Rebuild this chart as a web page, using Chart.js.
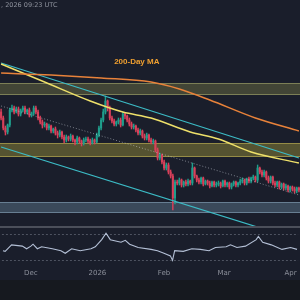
<!DOCTYPE html>
<html>
<head>
<meta charset="utf-8">
<script src="https://cdn.jsdelivr.net/npm/chart.js@4.4.1/dist/chart.umd.min.js"></script>
<style>
    html, body { margin: 0; padding: 0; background: #16191f; }
    #wrap { position: relative; width: 300px; height: 300px; overflow: hidden; background: #16191f; }
    #mainBox { position: absolute; left: 0; top: 0; width: 300px; height: 226px; background: #1a1e2b; }
    #sep { position: absolute; left: 0; top: 226px; width: 300px; height: 2px; background: #4b4f5a; }
    #rsiBox { position: absolute; left: 0; top: 228px; width: 300px; height: 52px; background: #1a1e2b; }
    #stamp { position: absolute; left: 1px; top: 1px; font: 6.5px "DejaVu Sans", sans-serif; color: #8f939e; }
</style>
</head>
<body>
<div id="wrap">
    <div id="mainBox"><canvas id="main" width="300" height="226"></canvas></div>
    <div id="sep"></div>
    <div id="rsiBox"><canvas id="rsi" width="300" height="52"></canvas></div>
    <div id="stamp">, 2026 09:23 UTC</div>
</div>
<script>
// daily candles, Nov 18 -> Apr 4
const firstOpen = 128;
const closes = [122,112,108,115,130,132,128,131,126,130,
    132,128,130,125,127,132,128,122,118,115,
    116,112,114,109,111,107,105,108,103,100,
    103,101,104,100,98,102,99,97,100,101,
    99,97,100,98,105,112,120,128,139,132,
    122,119,116,118,120,115,126,124,120,116,
    113,114,110,107,109,104,102,105,100,98,
    99,90,82,85,78,72,75,68,64,42,
    58,57,60,55,58,56,59,57,72,64,
    60,58,62,56,59,57,54,58,55,56,
    57,54,59,55,57,53,56,58,55,57,
    59,60,57,61,59,62,63,60,72,68,
    65,68,62,59,63,57,55,58,53,56,
    52,54,50,53,51,49,52,50];
const highs = [131,124,114,116,132,135,134,133,133,131,
    134,134,131,132,128,134,134,130,124,120,
    118,117,116,115,112,113,109,110,109,105,
    105,104,106,105,101,104,103,100,102,103,
    103,101,102,101,107,114,122,131,144,140,
    134,124,121,119,122,122,128,127,125,122,
    118,116,115,112,111,110,106,107,106,102,
    101,100,92,87,86,80,77,77,70,66,
    60,60,62,61,59,60,61,60,77,73,
    65,62,63,63,60,60,59,59,59,58,
    59,58,60,60,58,58,57,59,59,58,
    61,62,61,62,63,63,65,64,75,73,
    70,70,69,64,64,64,59,59,59,57,
    57,56,55,54,54,53,53,53];
const lows = [120,110,105,106,113,128,126,127,124,124,
    128,126,126,123,123,125,126,120,116,112,
    113,110,110,107,107,105,102,103,101,97,
    98,99,99,98,95,96,97,94,95,98,
    97,95,96,96,97,103,110,118,126,129,
    120,117,114,114,116,113,114,121,118,114,
    111,111,108,105,105,102,100,100,98,96,
    96,88,80,80,76,70,70,66,62,30,
    36,55,55,53,53,54,54,55,55,62,
    58,56,56,54,55,55,52,53,53,53,
    54,52,53,53,53,51,51,54,53,53,
    55,57,55,55,57,57,60,58,58,66,
    63,63,60,57,57,55,53,53,51,51,
    50,50,48,48,49,47,47,48];

// moving averages (day, value)
const ma200Days = [0, 23, 46, 69, 82, 96, 117, 137];
const ma200Vals = [167, 165, 162, 158, 151, 140, 122, 109];
const ma100Days = [0, 20, 41, 56, 69, 87, 100, 115, 137];
const ma100Vals = [176, 158, 139, 128, 122, 108, 101, 88, 77];

// channel lines, start/end
const chanDays = [0, 137];
const chanUpper = [177, 82];
const chanLower = [93, 0];
const chanMid = [134, 45];

// horizontal zones
const zoneTops = [157, 97, 38];
const zoneBottoms = [145, 83, 27];

// RSI
const rsiDays = [0,1,4,9,11,13,14,16,18,23,27,29,32,36,41,43,46,48,50,55,57,59,63,69,72,75,78,79,80,84,88,92,96,99,104,106,109,113,118,119,121,125,130,134,137];
const rsiVals = [44,43,53,51,47,51,54,47,50,47,44,40,47,44,47,50,61,71,61,57,60,54,49,46,44,40,36,29,44,43,47,46,44,49,50,53,49,51,61,66,57,53,46,49,46];
const rsiLevels = [70, 30];

const tickDays = [13, 44, 75, 103, 134];
const tickLabels = ['Dec', '2026', 'Feb', 'Mar', 'Apr'];

const days = closes.map((c, i) => i);
const opens = [firstOpen].concat(closes.slice(0, -1));
const candleColors = closes.map((c, i) => c >= opens[i] ? '#1f9e8c' : '#d8405a');

function sparse(dayList, valList) {
    const out = days.map(() => null);
    dayList.forEach((d, k) => { out[d] = valList[k]; });
    return out;
}

const zonePlugin = {
    id: 'zones',
    beforeDatasetsDraw(chart) {
        const { ctx, chartArea, scales } = chart;
        const fills = ['rgba(105,108,66,0.5)', 'rgba(135,128,55,0.55)', 'rgba(85,110,130,0.55)'];
        const edges = ['rgba(140,142,95,0.8)', 'rgba(165,155,75,0.8)', 'rgba(115,140,160,0.8)'];
        ctx.save();
        zoneTops.forEach((top, k) => {
            const y1 = scales.y.getPixelForValue(top);
            const y2 = scales.y.getPixelForValue(zoneBottoms[k]);
            ctx.fillStyle = fills[k];
            ctx.fillRect(chartArea.left, y1, chartArea.width, y2 - y1);
            ctx.fillStyle = edges[k];
            ctx.fillRect(chartArea.left, y1, chartArea.width, 1);
            ctx.fillRect(chartArea.left, y2 - 1, chartArea.width, 1);
        });
        ctx.restore();
    },
    afterDatasetsDraw(chart) {
        const { ctx, scales } = chart;
        ctx.save();
        ctx.font = 'bold 8px "Liberation Sans", sans-serif';
        ctx.fillStyle = '#f0a030';
        ctx.textBaseline = 'middle';
        ctx.fillText('200-Day MA', scales.x.getPixelForValue(52), scales.y.getPixelForValue(178));
        ctx.restore();
    }
};

const levelPlugin = {
    id: 'levels',
    beforeDatasetsDraw(chart) {
        const { ctx, chartArea, scales } = chart;
        ctx.save();
        ctx.strokeStyle = 'rgba(130,135,150,0.5)';
        ctx.setLineDash([2, 2]);
        ctx.lineWidth = 1;
        rsiLevels.forEach(v => {
            const y = Math.round(scales.y.getPixelForValue(v)) + 0.5;
            ctx.beginPath();
            ctx.moveTo(chartArea.left, y);
            ctx.lineTo(chartArea.right, y);
            ctx.stroke();
        });
        ctx.restore();
    }
};

function lineSet(data, color, width, extra) {
    return Object.assign({
        type: 'line', data: data, borderColor: color, borderWidth: width,
        pointRadius: 0, spanGaps: true, fill: false, order: 0
    }, extra || {});
}

new Chart(document.getElementById('main'), {
    type: 'bar',
    data: {
        labels: days,
        datasets: [
            { data: days.map(i => [lows[i], highs[i]]), backgroundColor: candleColors, barThickness: 0.8, grouped: false, order: 2 },
            { data: days.map(i => [opens[i], closes[i]]), backgroundColor: candleColors, barThickness: 1.4, minBarLength: 1, grouped: false, order: 1 },
            lineSet(sparse(ma200Days, ma200Vals), '#e8823a', 1.5, { cubicInterpolationMode: 'monotone' }),
            lineSet(sparse(ma100Days, ma100Vals), '#eee06a', 1.5, { cubicInterpolationMode: 'monotone' }),
            lineSet(sparse(chanDays, chanUpper), '#3cbcc6', 1.2),
            lineSet(sparse(chanDays, chanLower), '#3cbcc6', 1.2),
            lineSet(sparse(chanDays, chanMid), 'rgba(220,225,235,0.5)', 1, { borderDash: [1, 2] })
        ]
    },
    options: {
        responsive: false,
        devicePixelRatio: 1,
        animation: false,
        layout: { padding: 0 },
        plugins: { legend: { display: false }, tooltip: { enabled: false } },
        scales: {
            x: { display: false, offset: true },
            y: { display: false, min: 14, max: 240 }
        }
    },
    plugins: [zonePlugin]
});

new Chart(document.getElementById('rsi'), {
    type: 'line',
    data: {
        labels: days,
        datasets: [{
            data: sparse(rsiDays, rsiVals), borderColor: '#b4c0d6', borderWidth: 1.1,
            pointRadius: 0, spanGaps: true, fill: false
        }]
    },
    options: {
        responsive: false,
        devicePixelRatio: 1,
        animation: false,
        layout: { padding: 0 },
        plugins: { legend: { display: false }, tooltip: { enabled: false } },
        scales: {
            x: {
                offset: true,
                grid: { display: false, drawTicks: false },
                border: { display: false },
                ticks: {
                    autoSkip: false, maxRotation: 0, padding: 3,
                    color: '#8b8f9a', font: { size: 7, family: 'DejaVu Sans' },
                    callback: (v, i) => {
                        const k = tickDays.indexOf(i);
                        return k >= 0 ? tickLabels[k] : '';
                    }
                }
            },
            y: { display: false, min: 21, max: 79 }
        }
    },
    plugins: [levelPlugin]
});
</script>
</body>
</html>
